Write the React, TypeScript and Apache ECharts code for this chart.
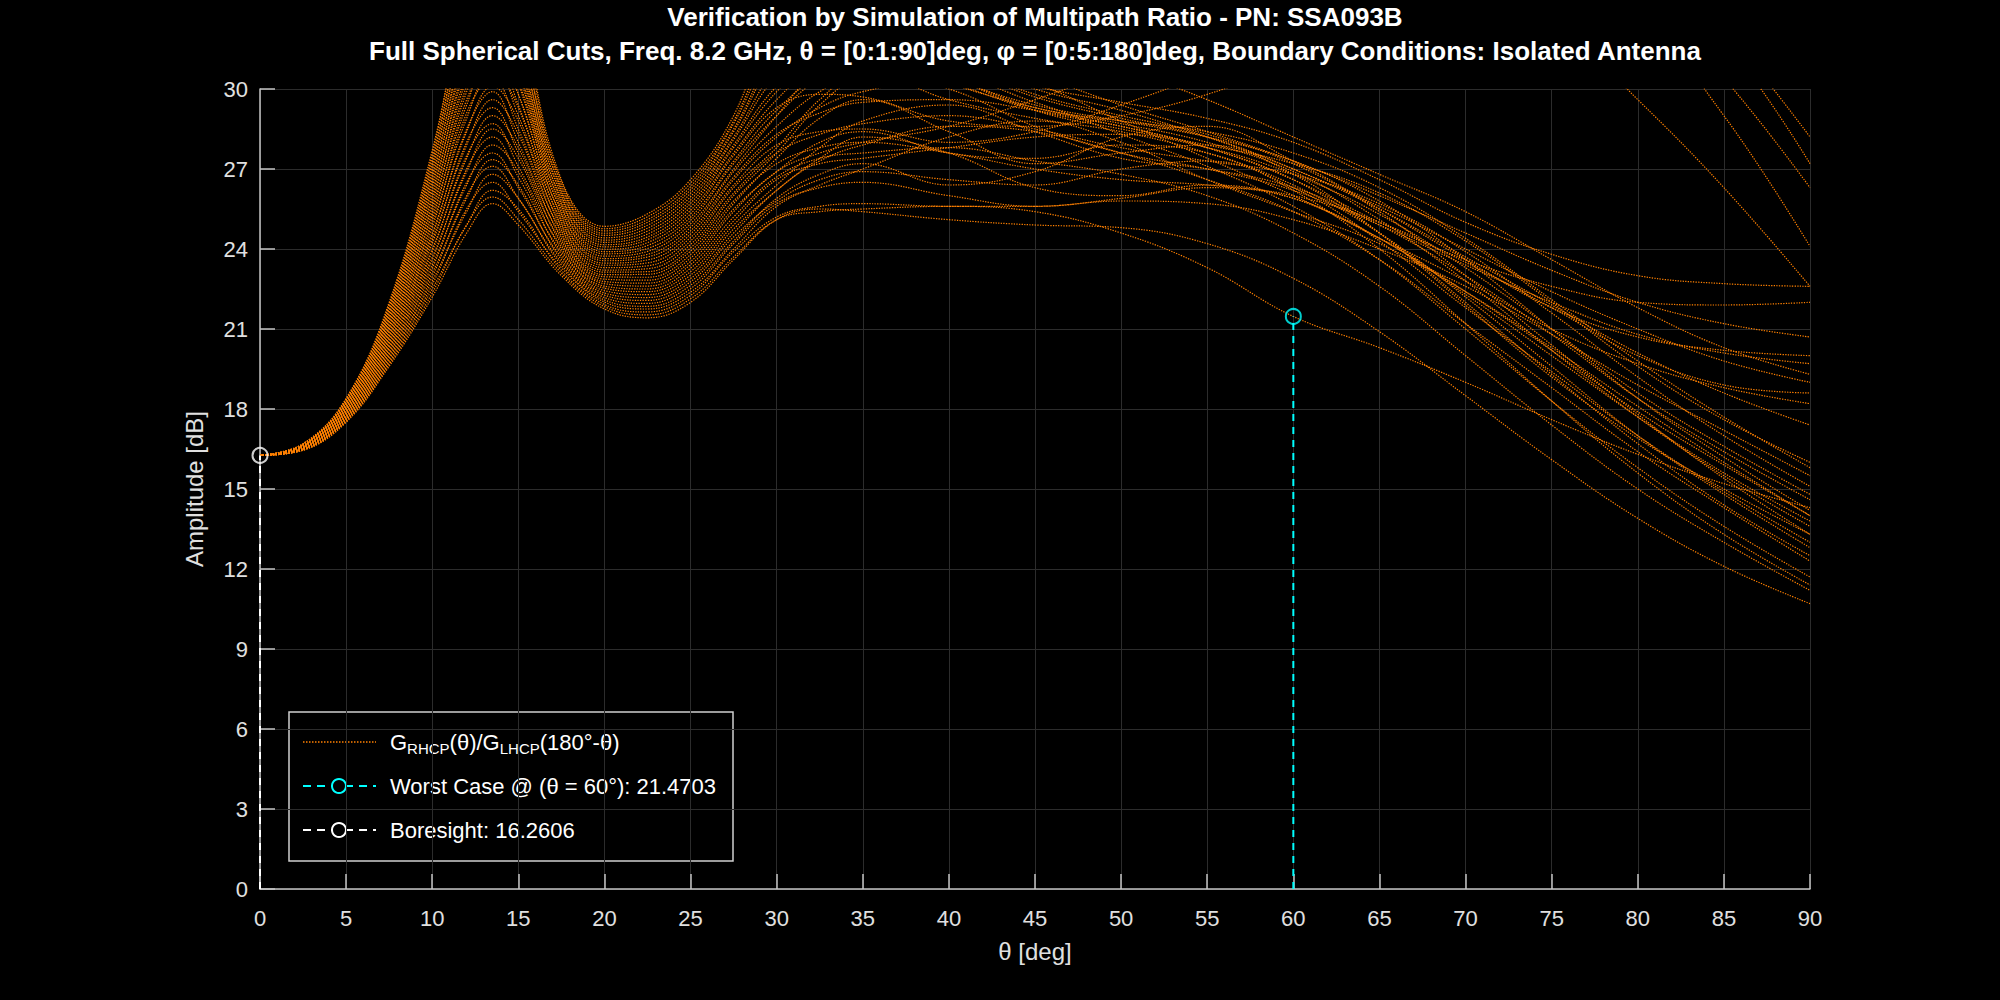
import React, { useEffect, useRef } from "react";
import * as echarts from "echarts";

// θ sample positions (deg)
const THETA_DEG = [0, 2.5, 5, 7.5, 10, 12, 13.5, 15, 17.5, 20, 22.5, 25, 27.5, 30, 32.5, 35, 40, 45, 50, 55, 60, 65, 70, 75, 80, 85, 90];

// G_RHCP(θ)/G_LHCP(180°-θ) [dB], one array per φ cut (φ = 0:5:180 deg)
const phi000 = [16.26, 16.45, 17.5, 19.6, 22.2, 24.6, 25.7, 24.9, 23.0, 21.75, 21.42, 22.0, 23.6, 25.1, 25.5, 25.4, 25.1, 24.9, 24.8, 24.2, 22.9, 20.9, 18.5, 16.1, 13.9, 12.1, 10.7];
const phi005 = [16.26, 16.46, 17.53, 19.67, 22.35, 24.9, 25.95, 25.1, 23.1, 21.84, 21.53, 22.13, 23.7, 25.1, 25.4, 25.5, 25.6, 25.4, 24.6, 23.3, 21.47, 20.3, 19.0, 17.6, 16.3, 15.2, 14.3];
const phi010 = [16.26, 16.46, 17.55, 19.73, 22.5, 24.9, 26.2, 25.5, 23.2, 21.92, 21.64, 22.26, 23.9, 25.2, 25.6, 25.7, 25.6, 25.6, 25.8, 25.7, 25.1, 24.0, 22.6, 20.8, 18.9, 17.2, 15.5];
const phi015 = [16.26, 16.47, 17.58, 19.8, 22.66, 25.5, 26.5, 25.4, 23.3, 22.01, 21.75, 22.38, 24.0, 25.6, 26.4, 27.0, 28.2, 28.8, 28.0, 26.6, 25.4, 24.2, 22.4, 20.3, 18.1, 16.0, 14.0];
const phi020 = [16.26, 16.48, 17.6, 19.87, 22.8, 25.4, 26.8, 25.9, 23.4, 22.09, 21.85, 22.51, 24.2, 25.7, 26.3, 26.5, 26.0, 25.6, 25.9, 26.3, 25.9, 24.4, 22.3, 20.0, 17.7, 15.6, 13.8];
const phi025 = [16.26, 16.48, 17.63, 19.93, 22.96, 26.0, 27.1, 25.9, 23.5, 22.18, 21.96, 22.64, 24.3, 25.9, 26.8, 27.2, 26.4, 26.9, 28.2, 28.6, 27.3, 25.5, 23.6, 21.8, 20.7, 20.2, 20.0];
const phi030 = [16.26, 16.49, 17.65, 20.0, 23.1, 25.9, 27.35, 26.4, 23.6, 22.27, 22.07, 22.77, 24.45, 25.8, 26.6, 26.9, 26.6, 26.4, 27.0, 27.3, 26.3, 24.3, 21.8, 19.4, 17.0, 14.9, 13.0];
const phi035 = [16.26, 16.5, 17.68, 20.07, 23.27, 26.5, 27.6, 26.3, 23.7, 22.35, 22.18, 22.89, 24.6, 26.2, 27.3, 27.9, 28.6, 28.4, 27.6, 26.6, 25.4, 23.6, 21.2, 18.8, 16.4, 14.3, 12.3];
const phi040 = [16.26, 16.51, 17.7, 20.13, 23.4, 26.4, 27.9, 26.9, 23.8, 22.44, 22.29, 23.02, 24.75, 26.2, 27.4, 28.2, 27.6, 26.3, 26.0, 26.4, 25.9, 24.4, 22.8, 21.0, 19.7, 18.8, 18.2];
const phi045 = [16.26, 16.51, 17.73, 20.2, 23.58, 27.0, 28.2, 26.7, 23.9, 22.53, 22.4, 23.15, 24.9, 26.4, 27.8, 28.8, 29.4, 28.4, 27.4, 27.0, 26.3, 24.9, 23.0, 20.8, 18.4, 16.4, 14.6];
const phi050 = [16.26, 16.52, 17.75, 20.27, 23.7, 26.9, 28.5, 27.4, 24.0, 22.61, 22.5, 23.28, 25.05, 26.6, 27.2, 27.4, 27.8, 28.2, 28.3, 27.8, 26.8, 25.3, 23.3, 21.0, 18.6, 16.6, 14.8];
const phi055 = [16.26, 16.53, 17.78, 20.33, 23.9, 27.5, 28.7, 27.1, 24.1, 22.7, 22.61, 23.41, 25.2, 26.7, 27.4, 27.6, 27.8, 27.3, 26.8, 26.0, 24.6, 22.6, 20.0, 17.4, 15.0, 13.0, 11.2];
const phi060 = [16.26, 16.53, 17.8, 20.4, 24.0, 27.4, 29.0, 27.8, 24.2, 22.78, 22.72, 23.53, 25.4, 26.9, 27.6, 28.0, 28.6, 29.6, 30.8, 32.2, 33.6, 34.8, 35.6, 35.6, 34.6, 31.8, 27.2];
const phi065 = [16.26, 16.54, 17.83, 20.47, 24.2, 28.0, 29.3, 27.6, 24.3, 22.87, 22.83, 23.66, 25.5, 26.9, 28.0, 28.4, 27.6, 27.4, 27.9, 27.6, 26.2, 24.0, 21.2, 18.3, 15.6, 13.3, 11.4];
const phi070 = [16.26, 16.55, 17.85, 20.53, 24.34, 27.9, 29.6, 28.3, 24.4, 22.96, 22.94, 23.79, 25.7, 27.4, 28.9, 29.6, 28.4, 27.2, 27.6, 27.9, 26.8, 24.6, 21.9, 19.2, 16.9, 15.0, 13.3];
const phi075 = [16.26, 16.55, 17.88, 20.6, 24.5, 28.5, 29.9, 28.0, 24.5, 23.04, 23.05, 23.92, 25.8, 27.2, 27.8, 28.0, 27.6, 27.0, 26.6, 26.4, 26.0, 25.0, 23.5, 21.8, 20.0, 18.9, 18.6];
const phi080 = [16.26, 16.56, 17.9, 20.67, 24.6, 28.4, 30.1, 28.8, 24.6, 23.13, 23.15, 24.04, 26.0, 27.6, 29.4, 30.5, 31.0, 30.2, 28.8, 27.4, 26.0, 24.4, 22.4, 20.2, 17.9, 15.9, 14.0];
const phi085 = [16.26, 16.57, 17.93, 20.73, 24.8, 29.1, 30.4, 28.5, 24.7, 23.21, 23.26, 24.17, 26.1, 27.6, 28.3, 28.7, 29.0, 28.5, 27.8, 27.3, 26.8, 25.7, 23.9, 21.6, 19.2, 17.0, 15.1];
const phi090 = [16.26, 16.58, 17.95, 20.8, 24.95, 28.9, 30.7, 29.3, 24.8, 23.3, 23.37, 24.3, 26.3, 27.8, 29.6, 30.6, 30.0, 28.6, 27.6, 27.0, 26.2, 24.9, 23.4, 22.0, 20.8, 20.1, 19.7];
const phi095 = [16.26, 16.58, 17.98, 20.87, 25.1, 29.6, 31.0, 29.0, 24.9, 23.39, 23.48, 24.43, 26.4, 27.9, 28.4, 28.5, 28.0, 28.4, 29.4, 30.6, 32.0, 33.4, 34.4, 34.4, 32.8, 29.0, 24.1];
const phi100 = [16.26, 16.59, 18.0, 20.93, 25.26, 29.4, 31.3, 29.8, 25.0, 23.47, 23.59, 24.56, 26.6, 28.2, 29.3, 29.9, 30.4, 29.5, 28.3, 27.1, 25.6, 23.6, 21.0, 18.3, 15.8, 13.6, 11.7];
const phi105 = [16.26, 16.6, 18.03, 21.0, 25.4, 30.1, 31.5, 29.4, 25.1, 23.56, 23.7, 24.68, 26.7, 28.3, 29.1, 29.5, 29.6, 29.2, 28.6, 27.8, 26.6, 25.0, 23.6, 22.6, 22.0, 21.9, 22.0];
const phi110 = [16.26, 16.6, 18.05, 21.07, 25.56, 29.9, 31.8, 30.3, 25.2, 23.64, 23.8, 24.81, 26.9, 28.6, 29.9, 30.6, 30.2, 29.2, 28.6, 27.8, 26.6, 24.6, 22.0, 19.3, 16.7, 14.4, 12.5];
const phi115 = [16.26, 16.61, 18.08, 21.13, 25.7, 30.6, 32.1, 29.8, 25.3, 23.73, 23.91, 24.94, 27.0, 29.0, 30.8, 31.6, 30.9, 29.7, 28.9, 28.2, 27.0, 25.5, 23.7, 21.9, 20.1, 18.6, 17.4];
const phi120 = [16.26, 16.62, 18.1, 21.2, 25.87, 30.4, 32.4, 30.7, 25.4, 23.82, 24.02, 25.07, 27.2, 29.0, 30.4, 31.0, 30.4, 29.3, 28.8, 28.4, 27.6, 26.3, 24.4, 22.1, 19.8, 17.7, 15.8];
const phi125 = [16.26, 16.62, 18.13, 21.27, 26.0, 31.1, 32.6, 30.2, 25.5, 23.9, 24.13, 25.19, 27.3, 29.2, 30.4, 30.6, 29.6, 28.9, 28.4, 27.6, 26.4, 24.6, 22.2, 19.6, 17.0, 14.8, 12.8];
const phi130 = [16.26, 16.63, 18.15, 21.33, 26.17, 30.9, 32.9, 31.1, 25.6, 23.99, 24.24, 25.32, 27.5, 29.3, 29.8, 29.7, 28.8, 28.6, 29.0, 29.8, 31.0, 32.4, 33.2, 32.6, 29.6, 26.3, 22.6];
const phi135 = [16.26, 16.64, 18.18, 21.4, 26.33, 31.6, 33.2, 30.6, 25.7, 24.08, 24.35, 25.45, 27.6, 29.6, 30.9, 31.2, 30.2, 29.3, 28.7, 28.0, 26.9, 25.1, 22.8, 20.2, 17.7, 15.5, 13.6];
const phi140 = [16.26, 16.64, 18.2, 21.47, 26.48, 31.4, 33.5, 31.5, 25.8, 24.16, 24.45, 25.58, 27.8, 29.9, 31.2, 31.6, 31.0, 30.1, 29.5, 28.9, 28.0, 26.6, 25.0, 23.8, 23.0, 22.7, 22.6];
const phi145 = [16.26, 16.65, 18.23, 21.53, 26.63, 32.1, 33.8, 31.0, 25.9, 24.25, 24.56, 25.71, 27.9, 30.1, 31.2, 31.4, 30.8, 30.6, 31.0, 32.0, 33.2, 34.4, 35.2, 35.0, 33.6, 30.4, 26.3];
const phi150 = [16.26, 16.66, 18.25, 21.6, 26.78, 31.9, 34.0, 31.9, 26.0, 24.33, 24.67, 25.83, 28.1, 30.5, 31.6, 31.5, 30.4, 29.4, 28.8, 28.2, 27.3, 25.8, 23.6, 21.0, 18.4, 16.2, 14.2];
const phi155 = [16.26, 16.67, 18.28, 21.67, 26.94, 32.6, 34.3, 31.4, 26.1, 24.42, 24.78, 25.96, 28.2, 30.8, 31.9, 32.1, 31.0, 29.8, 29.0, 28.3, 27.2, 25.4, 23.0, 20.4, 17.8, 15.4, 13.3];
const phi160 = [16.26, 16.67, 18.3, 21.73, 27.1, 32.4, 34.6, 32.4, 26.2, 24.51, 24.89, 26.09, 28.4, 31.2, 32.3, 32.4, 31.2, 30.0, 29.2, 28.2, 27.0, 25.6, 24.0, 22.4, 21.0, 19.8, 19.0];
const phi165 = [16.26, 16.68, 18.33, 21.8, 27.24, 33.1, 34.9, 31.9, 26.3, 24.59, 25.0, 26.22, 28.5, 31.5, 32.9, 33.2, 32.0, 30.6, 29.4, 28.4, 27.3, 26.0, 24.6, 23.2, 22.0, 21.2, 20.7];
const phi170 = [16.26, 16.69, 18.35, 21.87, 27.39, 32.9, 35.1, 32.9, 26.4, 24.68, 25.1, 26.34, 28.7, 31.9, 33.4, 33.8, 32.8, 32.2, 32.2, 32.8, 33.8, 35.0, 36.0, 36.2, 35.2, 32.2, 28.2];
const phi175 = [16.26, 16.69, 18.38, 21.93, 27.55, 33.6, 35.4, 32.4, 26.5, 24.76, 25.21, 26.47, 28.8, 32.3, 33.8, 34.2, 33.2, 32.0, 30.8, 29.6, 28.2, 26.8, 25.4, 23.6, 21.8, 20.3, 19.3];
const phi180 = [16.26, 16.7, 18.4, 22.0, 27.7, 33.4, 35.7, 33.2, 26.6, 24.85, 25.32, 26.6, 29.0, 32.8, 33.8, 32.8, 30.6, 29.2, 28.5, 27.9, 27.2, 26.1, 24.3, 22.0, 19.6, 17.6, 16.0];

const CUTS = [
  phi000, phi005, phi010, phi015, phi020, phi025, phi030, phi035, phi040, phi045,
  phi050, phi055, phi060, phi065, phi070, phi075, phi080, phi085, phi090, phi095,
  phi100, phi105, phi110, phi115, phi120, phi125, phi130, phi135, phi140, phi145,
  phi150, phi155, phi160, phi165, phi170, phi175, phi180,
];

const WORST_THETA = 60;
const WORST_VALUE = 21.4703;
const BORESIGHT_THETA = 0;
const BORESIGHT_VALUE = 16.2606;

const TITLE_1 = "Verification by Simulation of Multipath Ratio - PN: SSA093B";
const TITLE_2 = "Full Spherical Cuts, Freq. 8.2 GHz, θ = [0:1:90]deg, φ = [0:5:180]deg, Boundary Conditions: Isolated Antenna";

const FONT = '"Liberation Sans", Arial, Helvetica, sans-serif';
const ORANGE = "#ff8000";
const CYAN = "#00ffff";
const AXIS_COLOR = "#c4c4c4";
const LABEL_COLOR = "#e0e0e0";
const GRID_COLOR = "#2c2c2c";

export default function App() {
  const ref = useRef<HTMLDivElement>(null);

  useEffect(() => {
    document.body.style.margin = "0";
    document.body.style.background = "#000";
    if (!ref.current) return;
    const chart = echarts.init(ref.current, undefined, { renderer: "svg" });

    const cutSeries = CUTS.map((cut, i) => ({
      name: "cut" + i,
      type: "line",
      data: THETA_DEG.map((t, j) => [t, cut[j]]),
      showSymbol: false,
      smooth: 0.4,
      clip: true,
      silent: true,
      lineStyle: { color: ORANGE, width: 1.2, type: [1.3, 1.3] },
      z: 2,
    }));

    const option: any = {
      animation: false,
      backgroundColor: "#000",
      textStyle: { fontFamily: FONT },
      grid: { left: 260, right: 190, top: 89, bottom: 111, containLabel: false },
      xAxis: {
        type: "value",
        min: 0,
        max: 90,
        interval: 5,
        name: "θ [deg]",
        nameLocation: "middle",
        nameGap: 50,
        nameTextStyle: { color: LABEL_COLOR, fontSize: 24, fontFamily: FONT },
        axisLine: { show: true, onZero: false, lineStyle: { color: AXIS_COLOR, width: 1.5 } },
        axisTick: { show: true, inside: true, length: 15, lineStyle: { color: AXIS_COLOR, width: 1.5 } },
        axisLabel: { color: LABEL_COLOR, fontSize: 22, margin: 18, fontFamily: FONT },
        splitLine: { show: true, lineStyle: { color: GRID_COLOR, width: 1 } },
      },
      yAxis: {
        type: "value",
        min: 0,
        max: 30,
        interval: 3,
        name: "Amplitude [dB]",
        nameLocation: "middle",
        nameGap: 54,
        nameTextStyle: { color: LABEL_COLOR, fontSize: 24, fontFamily: FONT },
        axisLine: { show: true, onZero: false, lineStyle: { color: AXIS_COLOR, width: 1.5 } },
        axisTick: { show: true, inside: true, length: 15, lineStyle: { color: AXIS_COLOR, width: 1.5 } },
        axisLabel: { color: LABEL_COLOR, fontSize: 22, margin: 12, fontFamily: FONT },
        splitLine: { show: true, lineStyle: { color: GRID_COLOR, width: 1 } },
      },
      series: [
        ...cutSeries,
        {
          name: "worstLine",
          type: "line",
          data: [[WORST_THETA, 0], [WORST_THETA, WORST_VALUE]],
          showSymbol: false,
          clip: false,
          silent: true,
          lineStyle: { color: CYAN, width: 2, type: [7, 6] },
          z: 5,
        },
        {
          name: "worstMark",
          type: "scatter",
          data: [[WORST_THETA, WORST_VALUE]],
          symbol: "circle",
          symbolSize: 15,
          clip: false,
          silent: true,
          itemStyle: { color: "rgba(0,0,0,0)", borderColor: CYAN, borderWidth: 2 },
          z: 6,
        },
        {
          name: "boreLine",
          type: "line",
          data: [[BORESIGHT_THETA, 0], [BORESIGHT_THETA, BORESIGHT_VALUE]],
          showSymbol: false,
          clip: false,
          silent: true,
          lineStyle: { color: "#ffffff", width: 2, type: [7, 6] },
          z: 5,
        },
        {
          name: "boreMark",
          type: "scatter",
          data: [[BORESIGHT_THETA, BORESIGHT_VALUE]],
          symbol: "circle",
          symbolSize: 15,
          clip: false,
          silent: true,
          itemStyle: { color: "rgba(0,0,0,0)", borderColor: "#ffffff", borderWidth: 2 },
          z: 6,
        },
      ],
      graphic: [
        {
          type: "text",
          x: 1035,
          y: 17,
          silent: true,
          style: {
            text: TITLE_1,
            fill: "#ffffff",
            fontFamily: FONT,
            fontWeight: "bold",
            fontSize: 26,
            align: "center",
            verticalAlign: "middle",
          },
        },
        {
          type: "text",
          x: 1035,
          y: 51,
          silent: true,
          style: {
            text: TITLE_2,
            fill: "#ffffff",
            fontFamily: FONT,
            fontWeight: "bold",
            fontSize: 26,
            align: "center",
            verticalAlign: "middle",
          },
        },
        {
          type: "group",
          silent: true,
          z: 100,
          children: [
            {
              type: "rect",
              shape: { x: 289, y: 712, width: 444, height: 149 },
              style: { fill: "#000000", stroke: "#d0d0d0", lineWidth: 1.5 },
            },
            {
              type: "line",
              shape: { x1: 303, y1: 742, x2: 376, y2: 742 },
              style: { stroke: ORANGE, lineWidth: 1.5, lineDash: [1.5, 1.5] },
            },
            {
              type: "text",
              x: 390,
              y: 742,
              style: {
                text: "{n|G}{s|RHCP}{n|(θ)/G}{s|LHCP}{n|(180°-θ)}",
                fill: "#ffffff",
                verticalAlign: "middle",
                rich: {
                  n: { fontSize: 22, fontFamily: FONT, fill: "#ffffff", lineHeight: 28 },
                  s: { fontSize: 15, fontFamily: FONT, fill: "#ffffff", lineHeight: 15, verticalAlign: "bottom" },
                },
              },
            },
            {
              type: "line",
              shape: { x1: 303, y1: 786, x2: 376, y2: 786 },
              style: { stroke: CYAN, lineWidth: 2, lineDash: [8, 6] },
            },
            {
              type: "circle",
              shape: { cx: 339, cy: 786, r: 7 },
              style: { fill: "#000000", stroke: CYAN, lineWidth: 2 },
            },
            {
              type: "text",
              x: 390,
              y: 786,
              style: {
                text: "Worst Case @ (θ = 60°): 21.4703",
                fill: "#ffffff",
                fontFamily: FONT,
                fontSize: 22,
                verticalAlign: "middle",
              },
            },
            {
              type: "line",
              shape: { x1: 303, y1: 830, x2: 376, y2: 830 },
              style: { stroke: "#ffffff", lineWidth: 2, lineDash: [8, 6] },
            },
            {
              type: "circle",
              shape: { cx: 339, cy: 830, r: 7 },
              style: { fill: "#000000", stroke: "#ffffff", lineWidth: 2 },
            },
            {
              type: "text",
              x: 390,
              y: 830,
              style: {
                text: "Boresight: 16.2606",
                fill: "#ffffff",
                fontFamily: FONT,
                fontSize: 22,
                verticalAlign: "middle",
              },
            },
          ],
        },
      ],
    };

    chart.setOption(option);
    return () => {
      chart.dispose();
    };
  }, []);

  return <div ref={ref} style={{ width: 2000, height: 1000, background: "#000" }} />;
}
